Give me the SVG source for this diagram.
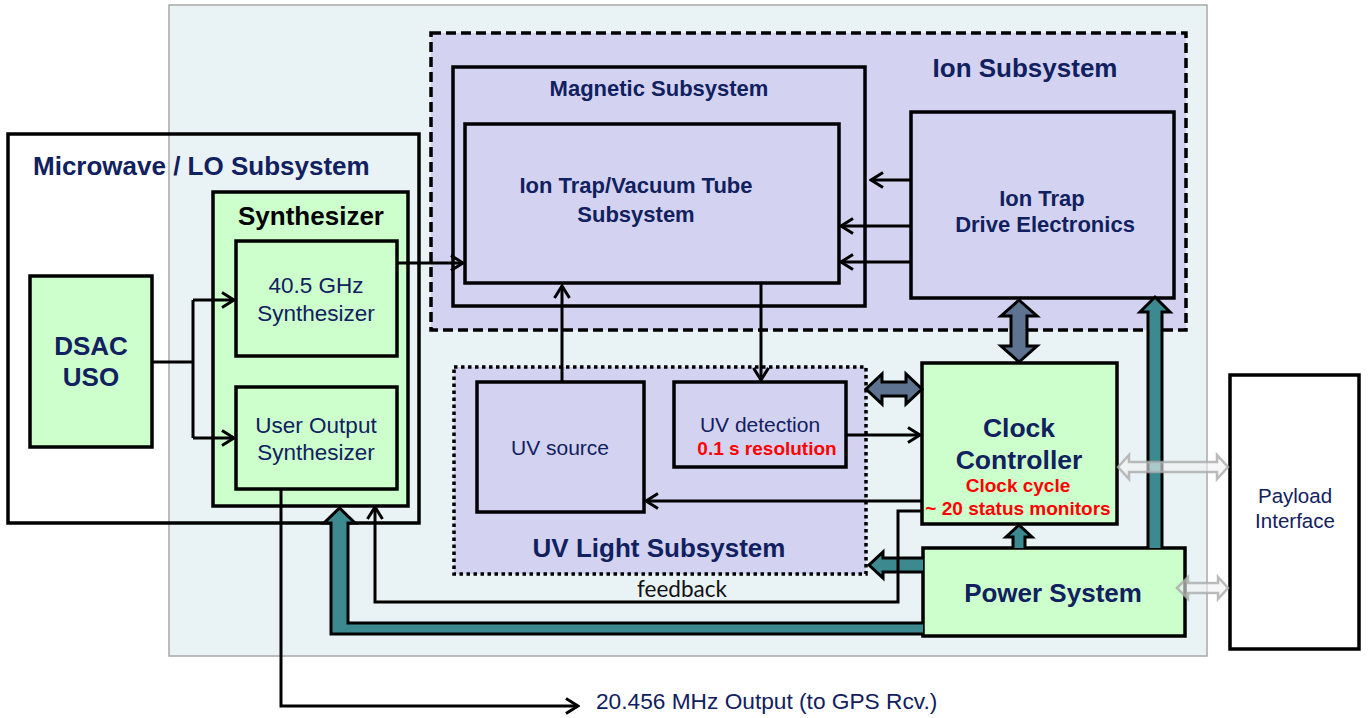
<svg xmlns="http://www.w3.org/2000/svg" width="1370" height="718" viewBox="0 0 1370 718">
<style>
.box{stroke:#000;stroke-width:3.5}
.lav{fill:#d3d3f1}
.grn{fill:#ccffcc}
.t{font-family:"Liberation Sans",Arial,sans-serif;fill:#11205e}
.b{font-weight:bold}
.red{fill:#ff0000;font-weight:bold;font-size:19px}
.ln{fill:none;stroke:#000;stroke-width:3}
.teal{fill:#3c8a8f;stroke:#000;stroke-width:3}
.steel{fill:#5e7390;stroke:#000;stroke-width:3}
.grey{fill:#f2f2f2;fill-opacity:0.6;stroke:#aaaaaa;stroke-width:2.5;stroke-opacity:0.8}
</style>
<defs>
<marker id="ah" markerUnits="userSpaceOnUse" viewBox="0 0 16 18" markerWidth="16" markerHeight="18" refX="14" refY="9" orient="auto">
<path d="M2,1.5 L14,9 L2,16.5" fill="none" stroke="#000" stroke-width="3"/>
</marker>
</defs>
<rect x="0" y="0" width="1370" height="718" fill="#ffffff"/>
<rect id="panel" x="169" y="5" width="1038" height="651" fill="#e9f2f5" stroke="#a8a8a8" stroke-width="1.5"/>

<g id="microwave">
<rect x="8" y="134" width="411" height="389" fill="none" class="box"/>
<text x="33" y="175" class="t b" font-size="26">Microwave / LO Subsystem</text>
</g>

<g id="ion-subsystem">
<rect x="431" y="33" width="755" height="297" class="lav" stroke="#000" stroke-width="3.5" stroke-dasharray="10,5"/>
<text x="1025" y="77" class="t b" font-size="26" text-anchor="middle">Ion Subsystem</text>
</g>
<g id="magnetic">
<rect x="453" y="67" width="412" height="239" class="lav box"/>
<text x="659" y="96" class="t b" font-size="22" text-anchor="middle">Magnetic Subsystem</text>
</g>
<g id="ion-trap">
<rect x="465" y="124" width="374" height="159" class="lav box"/>
<text x="636" y="193" class="t b" font-size="22" text-anchor="middle">Ion Trap/Vacuum Tube</text>
<text x="636" y="222" class="t b" font-size="22" text-anchor="middle">Subsystem</text>
</g>
<g id="drive-electronics">
<rect x="911" y="112" width="263" height="186" class="lav box"/>
<text x="1042" y="206" class="t b" font-size="22" text-anchor="middle">Ion Trap</text>
<text x="1045" y="232" class="t b" font-size="22" text-anchor="middle">Drive Electronics</text>
</g>

<g id="uv-light">
<rect x="454" y="367" width="412" height="207" class="lav" stroke="#000" stroke-width="3.5" stroke-dasharray="3.5,3.5"/>
<text x="659" y="557" class="t b" font-size="26" text-anchor="middle">UV Light Subsystem</text>
</g>
<g id="uv-source">
<rect x="477" y="382" width="167" height="130" class="lav box"/>
<text x="560" y="455" class="t" font-size="21" text-anchor="middle">UV source</text>
</g>
<g id="uv-detection">
<rect x="674" y="382" width="172" height="85" class="lav box"/>
<text x="760" y="432" class="t" font-size="21" text-anchor="middle">UV detection</text>
<text x="767" y="455" class="t red" text-anchor="middle">0.1 s resolution</text>
</g>

<g id="synthesizer">
<rect x="213" y="192" width="195" height="314" class="grn box"/>
<text x="311" y="225" font-family="Liberation Sans,Arial,sans-serif" font-weight="bold" font-size="26" fill="#000" text-anchor="middle">Synthesizer</text>
</g>
<g id="synth-40ghz">
<rect x="236" y="241" width="161" height="115" class="grn box"/>
<text x="316" y="293" class="t" font-size="22.5" text-anchor="middle">40.5 GHz</text>
<text x="316" y="321" class="t" font-size="22.5" text-anchor="middle">Synthesizer</text>
</g>
<g id="user-output">
<rect x="236" y="387" width="161" height="102" class="grn box"/>
<text x="316" y="433" class="t" font-size="22.5" text-anchor="middle">User Output</text>
<text x="316" y="460" class="t" font-size="22.5" text-anchor="middle">Synthesizer</text>
</g>
<g id="dsac">
<rect x="30" y="276" width="122" height="171" class="grn box"/>
<text x="91" y="355" class="t b" font-size="26" text-anchor="middle">DSAC</text>
<text x="91" y="386" class="t b" font-size="26" text-anchor="middle">USO</text>
</g>

<g id="clock-controller">
<rect x="922" y="363" width="195" height="161" class="grn box"/>
<text x="1019" y="437" class="t b" font-size="26.5" text-anchor="middle">Clock</text>
<text x="1019" y="469" class="t b" font-size="26.5" text-anchor="middle">Controller</text>
<text x="1018" y="492" class="t red" text-anchor="middle">Clock cycle</text>
<text x="1018" y="515" class="t red" text-anchor="middle">~ 20 status monitors</text>
</g>
<g id="power-system">
<rect x="923" y="548" width="262" height="88" class="grn box"/>
<text x="1053" y="602" class="t b" font-size="26" text-anchor="middle">Power System</text>
</g>
<g id="payload">
<rect x="1230" y="375" width="129" height="274" fill="#ffffff" class="box"/>
<text x="1295" y="503" class="t" font-size="20.5" text-anchor="middle">Payload</text>
<text x="1295" y="528" class="t" font-size="20.5" text-anchor="middle">Interface</text>
</g>

<g id="connectors">
<path class="teal" d="M923,623 L348,623 L348,523 L355,523 L339.5,508 L324,523 L331,523 L331,634 L923,634"/>
<path class="teal" d="M1148,548 L1148,312 L1140,312 L1155,297 L1170,312 L1162,312 L1162,548"/>
<path class="teal" d="M1013,548 L1013,537 L1006,537 L1019,525 L1032,537 L1025,537 L1025,548"/>
<path class="teal" d="M923,558 L883,558 L883,552 L869,565 L883,578 L883,572 L923,572"/>
<path class="steel" d="M1019,300 L1037,316 L1027,316 L1027,346 L1037,346 L1019,362 L1001,346 L1011,346 L1011,316 L1001,316 Z"/>
<path class="steel" d="M866,389 L882,374 L882,382 L906,382 L906,374 L922,389 L906,404 L906,396 L882,396 L882,404 Z"/>
<path class="grey" d="M1118,467 L1129,455 L1129,462 L1217,462 L1217,455 L1228,467 L1217,479 L1217,472 L1129,472 L1129,479 Z"/>
<path class="grey" d="M1177,588 L1188,577 L1188,583 L1218,583 L1218,577 L1228,588 L1218,599 L1218,593 L1188,593 L1188,599 Z"/>
<path class="ln" d="M152,362 H193 M193,300 V438"/>
<path class="ln" d="M193,300 H234" marker-end="url(#ah)"/>
<path class="ln" d="M193,438 H234" marker-end="url(#ah)"/>
<path class="ln" d="M397,263 H463" marker-end="url(#ah)"/>
<path class="ln" d="M911,180 H871" marker-end="url(#ah)"/>
<path class="ln" d="M911,226 H841" marker-end="url(#ah)"/>
<path class="ln" d="M911,262 H841" marker-end="url(#ah)"/>
<path class="ln" d="M562,382 V286" marker-end="url(#ah)"/>
<path class="ln" d="M761,283 V380" marker-end="url(#ah)"/>
<path class="ln" d="M846,435 H920" marker-end="url(#ah)"/>
<path class="ln" d="M922,501 H646" marker-end="url(#ah)"/>
<path class="ln" d="M922,511 H898 V602 H375 V507" marker-end="url(#ah)"/>
<path class="ln" d="M281,489 V706 H578" marker-end="url(#ah)"/>
<text x="682" y="597" font-family="Lato,'Open Sans',sans-serif" font-size="22.5" fill="#111" text-anchor="middle">feedback</text>
<text x="596" y="709" class="t" font-size="22.7">20.456 MHz Output (to GPS Rcv.)</text>
</g>
</svg>
